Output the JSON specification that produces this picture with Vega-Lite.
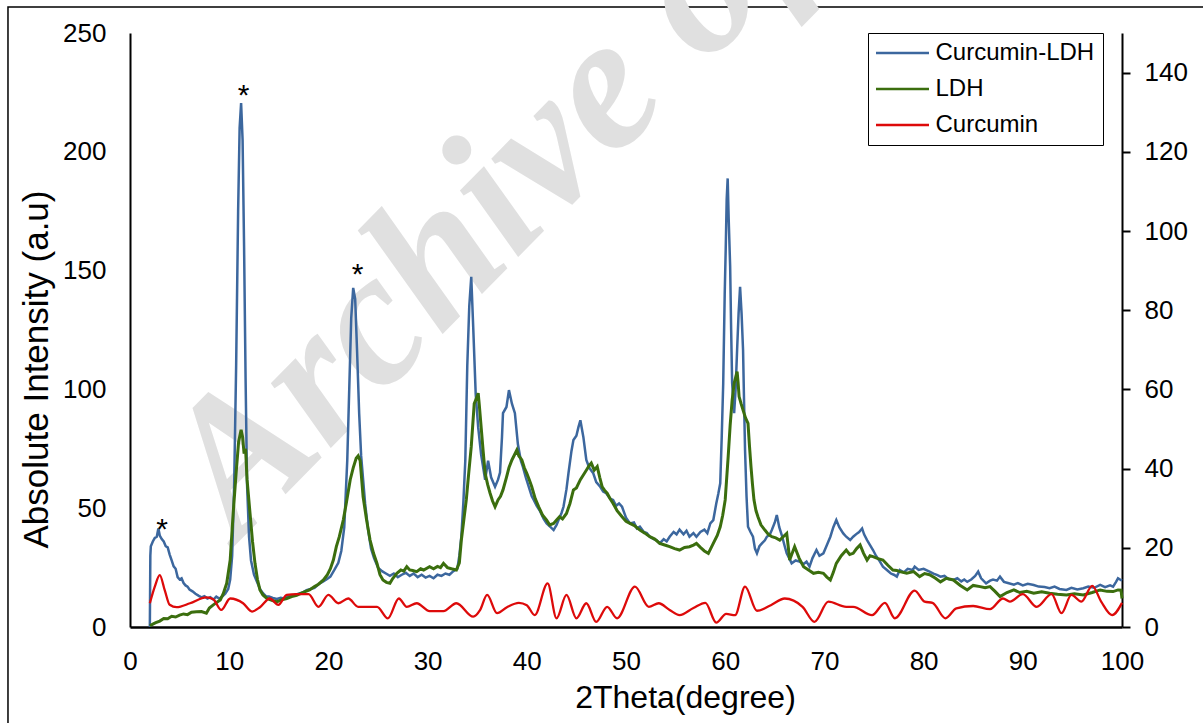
{
  "$schema": "https://vega.github.io/schema/vega-lite/v6.json",
  "width": 992,
  "height": 594,
  "autosize": {"type": "none"},
  "padding": {"left": 130, "top": 33, "right": 81, "bottom": 96},
  "background": "white",
  "config": {
    "view": {"stroke": null},
    "font": "Liberation Sans",
    "axis": {"grid": false, "labelColor": "black", "titleColor": "black", "domainColor": "black", "tickColor": "black", "labelFont": "Liberation Sans", "titleFont": "Liberation Sans", "labelFontSize": 26, "titleFontSize": 32, "titleFontWeight": "normal", "labelOverlap": false, "labelFlush": false}
  },
  "datasets": {
    "cl": [
      {"x":2.0,"y":0},{"x":2.05,"y":30},{"x":2.1,"y":34},{"x":2.3,"y":36},{"x":2.5,"y":37.5},{"x":2.7,"y":38},{"x":2.86,"y":41.5},{"x":3.0,"y":38.5},{"x":3.2,"y":37},{"x":3.4,"y":36},{"x":3.6,"y":34},{"x":3.8,"y":33.5},{"x":4.0,"y":30.5},{"x":4.2,"y":28},{"x":4.4,"y":25.5},{"x":4.6,"y":24.5},{"x":4.8,"y":21},{"x":5.0,"y":20},{"x":5.2,"y":20.5},{"x":5.4,"y":18.5},{"x":5.6,"y":17.5},{"x":5.8,"y":17},{"x":6.0,"y":15.8},{"x":6.3,"y":15},{"x":6.6,"y":14},{"x":6.9,"y":13.2},{"x":7.2,"y":12.5},{"x":7.5,"y":13},{"x":7.8,"y":12},{"x":8.1,"y":12.5},{"x":8.4,"y":11.5},{"x":8.7,"y":12.8},{"x":9.0,"y":12},{"x":9.3,"y":12.8},{"x":9.6,"y":14},{"x":9.9,"y":16},{"x":10.1,"y":20},{"x":10.3,"y":30},{"x":10.5,"y":60},{"x":10.7,"y":110},{"x":10.9,"y":175},{"x":11.05,"y":210},{"x":11.2,"y":220.5},{"x":11.35,"y":205},{"x":11.5,"y":160},{"x":11.65,"y":105},{"x":11.8,"y":60},{"x":12.0,"y":38},{"x":12.2,"y":28},{"x":12.5,"y":22},{"x":12.8,"y":19},{"x":13.1,"y":16},{"x":13.4,"y":14.2},{"x":13.7,"y":13},{"x":14.0,"y":12.8},{"x":14.4,"y":12.2},{"x":14.8,"y":11.8},{"x":15.2,"y":12.3},{"x":15.5,"y":12},{"x":15.8,"y":12.8},{"x":16.2,"y":13},{"x":16.6,"y":13.5},{"x":17.0,"y":14},{"x":17.4,"y":14.5},{"x":17.8,"y":15.5},{"x":18.2,"y":16},{"x":18.6,"y":16.5},{"x":19.0,"y":18},{"x":19.4,"y":19},{"x":19.8,"y":20},{"x":20.2,"y":21.2},{"x":20.6,"y":24},{"x":21.0,"y":27},{"x":21.3,"y":32},{"x":21.6,"y":42},{"x":21.9,"y":70},{"x":22.1,"y":100},{"x":22.3,"y":130},{"x":22.5,"y":142.7},{"x":22.7,"y":138},{"x":22.9,"y":115},{"x":23.1,"y":90},{"x":23.3,"y":72},{"x":23.5,"y":62},{"x":23.7,"y":52},{"x":24.0,"y":41},{"x":24.3,"y":33},{"x":24.6,"y":29},{"x":25.0,"y":25},{"x":25.4,"y":23.5},{"x":25.8,"y":22.5},{"x":26.2,"y":21.5},{"x":26.6,"y":22.5},{"x":27.0,"y":21},{"x":27.4,"y":22},{"x":27.8,"y":22.8},{"x":28.2,"y":21.5},{"x":28.6,"y":22.5},{"x":29.0,"y":21},{"x":29.4,"y":22},{"x":29.8,"y":20.8},{"x":30.2,"y":21.5},{"x":30.6,"y":20.5},{"x":31.0,"y":22},{"x":31.4,"y":21.5},{"x":31.8,"y":22.5},{"x":32.2,"y":22},{"x":32.6,"y":23.5},{"x":33.0,"y":24.5},{"x":33.2,"y":30},{"x":33.4,"y":38},{"x":33.6,"y":52},{"x":33.8,"y":70},{"x":34.0,"y":110},{"x":34.2,"y":135},{"x":34.4,"y":147.4},{"x":34.6,"y":126},{"x":34.85,"y":98},{"x":35.1,"y":84},{"x":35.4,"y":72.5},{"x":35.8,"y":62},{"x":36.1,"y":70},{"x":36.4,"y":63},{"x":36.8,"y":59},{"x":37.1,"y":62},{"x":37.3,"y":65},{"x":37.5,"y":80},{"x":37.6,"y":90},{"x":37.95,"y":92.6},{"x":38.2,"y":99.7},{"x":38.5,"y":94},{"x":38.8,"y":90},{"x":39.1,"y":77},{"x":39.4,"y":70},{"x":39.6,"y":67.5},{"x":39.9,"y":63},{"x":40.2,"y":59},{"x":40.5,"y":55},{"x":40.7,"y":53.5},{"x":41.0,"y":51},{"x":41.3,"y":49},{"x":41.7,"y":45.5},{"x":42.0,"y":43.6},{"x":42.4,"y":42},{"x":42.7,"y":40.8},{"x":43.0,"y":43},{"x":43.2,"y":45},{"x":43.5,"y":48},{"x":43.7,"y":50.6},{"x":44.0,"y":58},{"x":44.2,"y":64.7},{"x":44.5,"y":74},{"x":44.7,"y":78.7},{"x":45.0,"y":80.5},{"x":45.2,"y":84},{"x":45.4,"y":87},{"x":45.7,"y":80},{"x":46.0,"y":70.3},{"x":46.3,"y":67},{"x":46.7,"y":64.7},{"x":47.0,"y":61},{"x":47.4,"y":59},{"x":47.7,"y":57},{"x":48.0,"y":56.3},{"x":48.4,"y":54},{"x":48.7,"y":53.5},{"x":49.0,"y":51},{"x":49.3,"y":52},{"x":49.6,"y":50.6},{"x":50.0,"y":46},{"x":50.4,"y":43.6},{"x":50.8,"y":44},{"x":51.1,"y":41.5},{"x":51.4,"y":42.2},{"x":51.8,"y":40},{"x":52.1,"y":39.5},{"x":52.4,"y":38},{"x":52.8,"y":37},{"x":53.1,"y":36.5},{"x":53.4,"y":35.2},{"x":53.8,"y":37},{"x":54.1,"y":36},{"x":54.4,"y":38},{"x":54.8,"y":40},{"x":55.1,"y":39},{"x":55.4,"y":41},{"x":55.8,"y":39},{"x":56.1,"y":40.5},{"x":56.4,"y":38},{"x":56.8,"y":39.5},{"x":57.1,"y":38},{"x":57.5,"y":40},{"x":57.9,"y":41},{"x":58.2,"y":39.5},{"x":58.5,"y":43.6},{"x":58.8,"y":45},{"x":59.1,"y":52},{"x":59.3,"y":56},{"x":59.5,"y":60.5},{"x":59.65,"y":80},{"x":59.8,"y":102.6},{"x":59.95,"y":140},{"x":60.05,"y":158.7},{"x":60.15,"y":180},{"x":60.25,"y":188.8},{"x":60.35,"y":172},{"x":60.5,"y":151.6},{"x":60.6,"y":125},{"x":60.7,"y":102.6},{"x":60.9,"y":90},{"x":61.05,"y":100},{"x":61.2,"y":116.6},{"x":61.35,"y":132},{"x":61.5,"y":143.2},{"x":61.65,"y":132},{"x":61.8,"y":116.6},{"x":61.9,"y":95},{"x":62.0,"y":74.5},{"x":62.15,"y":55},{"x":62.3,"y":42.2},{"x":62.55,"y":40},{"x":62.8,"y":38},{"x":63.0,"y":33},{"x":63.2,"y":31},{"x":63.45,"y":34},{"x":63.7,"y":35.2},{"x":64.0,"y":36.5},{"x":64.2,"y":38},{"x":64.5,"y":39},{"x":64.7,"y":40.8},{"x":65.0,"y":44},{"x":65.2,"y":47.1},{"x":65.45,"y":42},{"x":65.7,"y":38.7},{"x":66.0,"y":34},{"x":66.2,"y":31},{"x":66.45,"y":29},{"x":66.7,"y":26.8},{"x":67.1,"y":28},{"x":67.5,"y":27.5},{"x":67.9,"y":26.5},{"x":68.2,"y":27.5},{"x":68.5,"y":25.4},{"x":68.8,"y":29},{"x":69.2,"y":32.4},{"x":69.5,"y":30},{"x":69.9,"y":31},{"x":70.2,"y":34},{"x":70.6,"y":38},{"x":70.9,"y":42},{"x":71.2,"y":45},{"x":71.5,"y":42},{"x":71.9,"y":39.4},{"x":72.2,"y":38},{"x":72.6,"y":36.6},{"x":72.9,"y":38},{"x":73.3,"y":39.4},{"x":73.5,"y":40},{"x":73.8,"y":41.5},{"x":74.0,"y":39},{"x":74.3,"y":36.6},{"x":74.6,"y":34.5},{"x":74.9,"y":32.4},{"x":75.2,"y":30},{"x":75.6,"y":27.5},{"x":75.9,"y":25.4},{"x":76.3,"y":24},{"x":76.7,"y":22.5},{"x":77.0,"y":22},{"x":77.3,"y":21.2},{"x":77.6,"y":24},{"x":78.0,"y":23},{"x":78.4,"y":24.5},{"x":78.9,"y":24},{"x":79.1,"y":25.4},{"x":79.5,"y":24},{"x":80.0,"y":24.5},{"x":80.6,"y":23.3},{"x":81.0,"y":22.5},{"x":81.4,"y":21.8},{"x":81.7,"y":21.2},{"x":82.1,"y":21.5},{"x":82.5,"y":20.2},{"x":83.0,"y":19.8},{"x":83.4,"y":20.5},{"x":83.8,"y":19.2},{"x":84.1,"y":20},{"x":84.4,"y":19},{"x":84.8,"y":20},{"x":85.2,"y":21.5},{"x":85.5,"y":23.3},{"x":85.8,"y":20.5},{"x":86.3,"y":18.4},{"x":86.7,"y":19.5},{"x":87.0,"y":20},{"x":87.4,"y":19.5},{"x":87.7,"y":21.2},{"x":88.1,"y":19},{"x":88.5,"y":18.5},{"x":89.1,"y":17.8},{"x":89.5,"y":18.5},{"x":90.0,"y":17.5},{"x":90.5,"y":18.2},{"x":91.1,"y":17.7},{"x":91.6,"y":17},{"x":92.2,"y":16.8},{"x":92.7,"y":16.3},{"x":93.2,"y":17},{"x":93.7,"y":16},{"x":94.4,"y":15.6},{"x":94.9,"y":16.5},{"x":95.5,"y":15.8},{"x":96.1,"y":16.3},{"x":96.6,"y":17},{"x":97.2,"y":16.5},{"x":97.8,"y":17.7},{"x":98.3,"y":16.8},{"x":98.8,"y":17.5},{"x":99.1,"y":17},{"x":99.4,"y":19},{"x":99.6,"y":20.5},{"x":99.8,"y":20},{"x":100,"y":19.5}
    ],
    "ldh": [
      {"x":2.0,"y":0.5},{"x":2.3,"y":1.2},{"x":2.6,"y":1.8},{"x":3.0,"y":2.5},{"x":3.4,"y":3.6},{"x":3.8,"y":3.5},{"x":4.2,"y":4.5},{"x":4.6,"y":4.2},{"x":5.0,"y":5},{"x":5.4,"y":5.5},{"x":5.8,"y":5.2},{"x":6.2,"y":6.2},{"x":6.7,"y":6.4},{"x":7.2,"y":6.5},{"x":7.7,"y":5.8},{"x":8.0,"y":8},{"x":8.4,"y":9.3},{"x":8.8,"y":10.5},{"x":9.1,"y":11.4},{"x":9.4,"y":14},{"x":9.75,"y":18.4},{"x":10.1,"y":28.2},{"x":10.4,"y":47.8},{"x":10.7,"y":65},{"x":10.95,"y":78},{"x":11.2,"y":83},{"x":11.35,"y":80},{"x":11.5,"y":73},{"x":11.65,"y":75},{"x":11.8,"y":62},{"x":12.1,"y":47.8},{"x":12.35,"y":36},{"x":12.6,"y":26.8},{"x":12.85,"y":20},{"x":13.1,"y":15.6},{"x":13.4,"y":13.5},{"x":13.8,"y":12},{"x":14.3,"y":11.2},{"x":14.8,"y":10.6},{"x":15.3,"y":11.5},{"x":15.8,"y":12},{"x":16.3,"y":12.8},{"x":16.8,"y":13.3},{"x":17.4,"y":14.5},{"x":18.1,"y":15.6},{"x":18.6,"y":17},{"x":19.0,"y":18},{"x":19.5,"y":19.8},{"x":19.9,"y":22},{"x":20.2,"y":24.5},{"x":20.5,"y":28.2},{"x":20.8,"y":33.8},{"x":21.1,"y":38},{"x":21.5,"y":45},{"x":21.8,"y":52},{"x":22.2,"y":62},{"x":22.5,"y":67},{"x":22.8,"y":71},{"x":23.0,"y":72},{"x":23.2,"y":70},{"x":23.5,"y":54.8},{"x":23.85,"y":45},{"x":24.2,"y":36.6},{"x":24.55,"y":31},{"x":24.9,"y":26.8},{"x":25.2,"y":22},{"x":25.5,"y":19.8},{"x":25.85,"y":18.8},{"x":26.2,"y":18.4},{"x":26.5,"y":20.5},{"x":26.9,"y":22.6},{"x":27.3,"y":24},{"x":27.6,"y":23.5},{"x":27.9,"y":25.4},{"x":28.2,"y":24},{"x":28.5,"y":23.8},{"x":28.9,"y":23.3},{"x":29.3,"y":24.5},{"x":29.6,"y":24},{"x":30.2,"y":25.4},{"x":30.6,"y":24.5},{"x":31.0,"y":25.5},{"x":31.3,"y":25},{"x":31.6,"y":26.8},{"x":32.0,"y":25},{"x":32.4,"y":24.5},{"x":32.9,"y":24},{"x":33.2,"y":27},{"x":33.4,"y":36.5},{"x":33.65,"y":45},{"x":33.9,"y":53.5},{"x":34.15,"y":65},{"x":34.4,"y":75.9},{"x":34.7,"y":94},{"x":34.9,"y":96},{"x":35.1,"y":98.4},{"x":35.2,"y":94},{"x":35.4,"y":84},{"x":35.6,"y":74},{"x":35.8,"y":64.7},{"x":36.05,"y":60},{"x":36.3,"y":56.3},{"x":36.55,"y":53},{"x":36.8,"y":50.6},{"x":37.1,"y":53.5},{"x":37.35,"y":55},{"x":37.6,"y":57.7},{"x":37.95,"y":63},{"x":38.2,"y":67},{"x":38.5,"y":70.3},{"x":39.0,"y":74.5},{"x":39.2,"y":72},{"x":39.5,"y":70.3},{"x":39.75,"y":67},{"x":40.0,"y":64.7},{"x":40.25,"y":62},{"x":40.5,"y":59},{"x":40.85,"y":54},{"x":41.2,"y":50.6},{"x":41.6,"y":47},{"x":42.0,"y":45},{"x":42.3,"y":43},{"x":42.7,"y":43.6},{"x":43.0,"y":45},{"x":43.3,"y":46.4},{"x":43.6,"y":45.5},{"x":44.0,"y":47.8},{"x":44.35,"y":52},{"x":44.7,"y":57.7},{"x":45.0,"y":58.5},{"x":45.4,"y":62},{"x":45.7,"y":64},{"x":46.0,"y":66},{"x":46.3,"y":68},{"x":46.5,"y":69},{"x":46.8,"y":66},{"x":47.1,"y":67.5},{"x":47.35,"y":63},{"x":47.6,"y":59},{"x":47.85,"y":57.5},{"x":48.1,"y":56.3},{"x":48.4,"y":54},{"x":48.7,"y":52},{"x":49.1,"y":49},{"x":49.6,"y":46.4},{"x":50.0,"y":44.5},{"x":50.4,"y":43.6},{"x":50.9,"y":42.5},{"x":51.4,"y":40.8},{"x":51.9,"y":39.5},{"x":52.4,"y":38},{"x":52.9,"y":37},{"x":53.4,"y":35.2},{"x":53.9,"y":34.5},{"x":54.4,"y":33.8},{"x":54.9,"y":33},{"x":55.4,"y":32.4},{"x":55.9,"y":33.5},{"x":56.4,"y":33.8},{"x":56.8,"y":34.5},{"x":57.1,"y":35.2},{"x":57.5,"y":33.5},{"x":57.9,"y":32},{"x":58.3,"y":31},{"x":58.8,"y":35.2},{"x":59.2,"y":38.5},{"x":59.5,"y":42.2},{"x":59.75,"y":47},{"x":60.0,"y":53.5},{"x":60.3,"y":71.7},{"x":60.5,"y":85},{"x":60.7,"y":95.5},{"x":60.9,"y":102.6},{"x":61.05,"y":105},{"x":61.2,"y":107.5},{"x":61.3,"y":103},{"x":61.4,"y":97},{"x":61.6,"y":94},{"x":61.8,"y":91.3},{"x":62.05,"y":88},{"x":62.3,"y":85.7},{"x":62.45,"y":76},{"x":62.6,"y":67.5},{"x":62.75,"y":60},{"x":62.9,"y":53.5},{"x":63.1,"y":49},{"x":63.3,"y":46.4},{"x":63.6,"y":43},{"x":64.0,"y":40.8},{"x":64.35,"y":39},{"x":64.7,"y":38},{"x":65.1,"y":37.5},{"x":65.5,"y":36.6},{"x":65.85,"y":38},{"x":66.2,"y":39.4},{"x":66.35,"y":34},{"x":66.5,"y":28.2},{"x":66.75,"y":31},{"x":67.0,"y":33.8},{"x":67.45,"y":29},{"x":67.9,"y":25.4},{"x":68.4,"y":24},{"x":68.9,"y":22.6},{"x":69.4,"y":23},{"x":69.9,"y":22.6},{"x":70.25,"y":21},{"x":70.6,"y":19.8},{"x":70.9,"y":23},{"x":71.2,"y":26.8},{"x":71.7,"y":30},{"x":72.2,"y":32.4},{"x":72.55,"y":30.5},{"x":72.9,"y":31},{"x":73.25,"y":33},{"x":73.6,"y":34.5},{"x":73.95,"y":31},{"x":74.3,"y":28.2},{"x":74.6,"y":30},{"x":74.9,"y":29.6},{"x":75.4,"y":28.8},{"x":75.9,"y":28.2},{"x":76.4,"y":26},{"x":76.9,"y":24},{"x":77.3,"y":23.8},{"x":77.6,"y":23.3},{"x":78.3,"y":22.6},{"x":79.0,"y":23.3},{"x":79.6,"y":21.2},{"x":80.1,"y":22.5},{"x":80.6,"y":22},{"x":81.2,"y":20.5},{"x":81.7,"y":19},{"x":82.3,"y":20.5},{"x":83.0,"y":19.8},{"x":83.7,"y":17.5},{"x":84.4,"y":15.6},{"x":85.0,"y":17.5},{"x":85.7,"y":17},{"x":86.2,"y":16.5},{"x":86.7,"y":17},{"x":87.2,"y":15},{"x":87.7,"y":12.8},{"x":88.4,"y":14.5},{"x":89.1,"y":15.6},{"x":89.7,"y":14.5},{"x":90.4,"y":15},{"x":91.1,"y":14.2},{"x":91.9,"y":14.8},{"x":92.7,"y":14.2},{"x":93.5,"y":13.8},{"x":94.4,"y":13.5},{"x":95.2,"y":14},{"x":96.1,"y":13.5},{"x":97.0,"y":14.5},{"x":97.8,"y":15.6},{"x":98.5,"y":15},{"x":99.1,"y":14.9},{"x":99.6,"y":15.6},{"x":99.9,"y":15.5},{"x":100,"y":12}
    ],
    "cur": [
      {"x":2.0,"y":6.0},{"x":2.5,"y":10.2},{"x":3.0,"y":13.1},{"x":3.5,"y":9.3},{"x":4.0,"y":5.6},{"x":4.7,"y":5.0},{"x":6.05,"y":6.0},{"x":7.7,"y":7.5},{"x":8.4,"y":7.0},{"x":9.2,"y":4.3},{"x":10.1,"y":7.2},{"x":11.4,"y":6.0},{"x":12.3,"y":3.9},{"x":13.1,"y":5.0},{"x":14.1,"y":7.2},{"x":14.95,"y":5.6},{"x":15.8,"y":8.1},{"x":16.8,"y":8.3},{"x":18.0,"y":8.3},{"x":19.0,"y":5.1},{"x":20.0,"y":8.1},{"x":21.0,"y":6.0},{"x":22.0,"y":7.2},{"x":23.0,"y":5.1},{"x":24.9,"y":5.1},{"x":26.0,"y":2.2},{"x":27.1,"y":7.2},{"x":27.9,"y":5.1},{"x":28.9,"y":6.0},{"x":30.2,"y":4.0},{"x":31.6,"y":4.0},{"x":32.9,"y":6.0},{"x":34.6,"y":2.6},{"x":35.3,"y":4.3},{"x":36.0,"y":8.1},{"x":37.0,"y":3.5},{"x":38.0,"y":5.0},{"x":39.2,"y":6.1},{"x":40.0,"y":5.5},{"x":40.8,"y":3.0},{"x":42.1,"y":11.0},{"x":43.0,"y":2.2},{"x":44.0,"y":8.1},{"x":45.0,"y":2.2},{"x":46.0,"y":6.0},{"x":47.0,"y":1.3},{"x":48.1,"y":5.1},{"x":49.1,"y":2.2},{"x":50.9,"y":10.2},{"x":52.3,"y":5.1},{"x":53.3,"y":6.0},{"x":54.4,"y":4.3},{"x":55.4,"y":3.0},{"x":56.8,"y":4.8},{"x":58.0,"y":6.1},{"x":59.1,"y":1.1},{"x":60.1,"y":3.3},{"x":61.0,"y":3.0},{"x":62.0,"y":10.2},{"x":63.2,"y":4.1},{"x":64.6,"y":5.5},{"x":66.0,"y":7.2},{"x":67.8,"y":5.1},{"x":69.0,"y":1.3},{"x":70.4,"y":6.4},{"x":72.2,"y":5.1},{"x":72.9,"y":5.1},{"x":74.8,"y":3.0},{"x":76.1,"y":6.1},{"x":77.1,"y":2.2},{"x":79.1,"y":9.2},{"x":80.1,"y":6.4},{"x":80.9,"y":6.1},{"x":82.2,"y":2.2},{"x":83.3,"y":4.7},{"x":85.0,"y":5.3},{"x":86.7,"y":4.5},{"x":88.0,"y":7.2},{"x":88.7,"y":6.4},{"x":90.0,"y":8.3},{"x":91.4,"y":5.1},{"x":92.9,"y":8.3},{"x":93.9,"y":3.5},{"x":94.9,"y":8.1},{"x":95.9,"y":6.4},{"x":97.0,"y":10.4},{"x":97.9,"y":6.4},{"x":99.0,"y":3.0},{"x":100,"y":6.1}
    ],
    "stars": [
      {"x":3.23,"y":37,"t":"*"},{"x":11.46,"y":219.5,"t":"*"},{"x":22.95,"y":144.4,"t":"*"}
    ],
    "mark": [{"x":10.9,"y":35.7,"t":"Archive of SID"}]
  },
  "layer": [
    {
      "layer": [
        {
          "data": {"values": [{"id": 1}]},
          "mark": {"type": "rect", "fillOpacity": 0, "stroke": "black", "strokeWidth": 1.5},
          "encoding": {
            "x": {"datum": -12.3, "type": "quantitative"},
            "x2": {"datum": 110},
            "y": {"datum": 260.9, "type": "quantitative"},
            "y2": {"datum": -50}
          }
        },
        {
          "data": {"name": "mark"},
          "mark": {"type": "text", "font": "Liberation Serif", "fontStyle": "italic", "fontWeight": "bold", "fontSize": 192, "angle": -45.5, "align": "left", "baseline": "alphabetic", "color": "#e0e0e0"},
          "encoding": {
            "x": {"field": "x", "type": "quantitative"},
            "y": {"field": "y", "type": "quantitative"},
            "text": {"field": "t"}
          }
        },
        {
          "data": {"name": "cl"},
          "mark": {"type": "line", "strokeWidth": 2.5},
          "encoding": {
            "x": {"field": "x", "type": "quantitative", "scale": {"domain": [0, 100], "nice": false},
                  "axis": {"title": "2Theta(degree)", "values": [0,10,20,30,40,50,60,70,80,90,100], "ticks": false, "tickSize": 0, "labelPadding": 21, "domainWidth": 2.5, "titleX": 555, "titleY": 80, "titleBaseline": "alphabetic", "titleAlign": "center"}},
            "y": {"field": "y", "type": "quantitative", "scale": {"domain": [0, 250], "nice": false},
                  "axis": {"title": "Absolute Intensity (a.u)", "values": [0,50,100,150,200,250], "ticks": false, "tickSize": 0, "labelPadding": 24, "domainWidth": 2, "titleFontSize": 35, "titleAngle": -90, "titleX": -83, "titleY": 336, "titleAlign": "center", "titleBaseline": "alphabetic"}},
            "color": {"datum": "Curcumin-LDH", "type": "nominal",
                      "scale": {"domain": ["Curcumin-LDH", "LDH", "Curcumin"], "range": ["#3C679E", "#3B6E0E", "#DD0A0A"]},
                      "legend": {"orient": "none", "legendX": 738, "legendY": 0, "title": null, "padding": 8, "strokeColor": "black", "fillColor": "white", "labelFontSize": 24, "labelFont": "Liberation Sans", "labelColor": "black", "labelLimit": 400, "symbolType": "M-4,0H4", "symbolSize": 175.6, "symbolStrokeWidth": 2.5, "symbolOffset": 14.5, "labelOffset": 21, "rowPadding": 12}}
          }
        },
        {
          "data": {"name": "ldh"},
          "mark": {"type": "line", "strokeWidth": 3},
          "encoding": {
            "x": {"field": "x", "type": "quantitative"},
            "y": {"field": "y", "type": "quantitative"},
            "color": {"datum": "LDH", "type": "nominal"}
          }
        },
        {
          "data": {"name": "stars"},
          "mark": {"type": "text", "fontSize": 30, "font": "Liberation Sans", "align": "center", "baseline": "alphabetic", "color": "black"},
          "encoding": {
            "x": {"field": "x", "type": "quantitative"},
            "y": {"field": "y", "type": "quantitative"},
            "text": {"field": "t"}
          }
        }
      ]
    },
    {
      "data": {"name": "cur"},
      "mark": {"type": "line", "strokeWidth": 2.3, "interpolate": "monotone"},
      "encoding": {
        "x": {"field": "x", "type": "quantitative"},
        "y": {"field": "y", "type": "quantitative", "scale": {"domain": [0, 150], "nice": false},
              "axis": {"orient": "right", "title": null, "values": [0,20,40,60,80,100,120,140], "ticks": true, "tickSize": 8, "tickWidth": 2, "labelPadding": 14, "domainWidth": 2}},
        "color": {"datum": "Curcumin", "type": "nominal"}
      }
    }
  ],
  "resolve": {"scale": {"y": "independent"}}
}
